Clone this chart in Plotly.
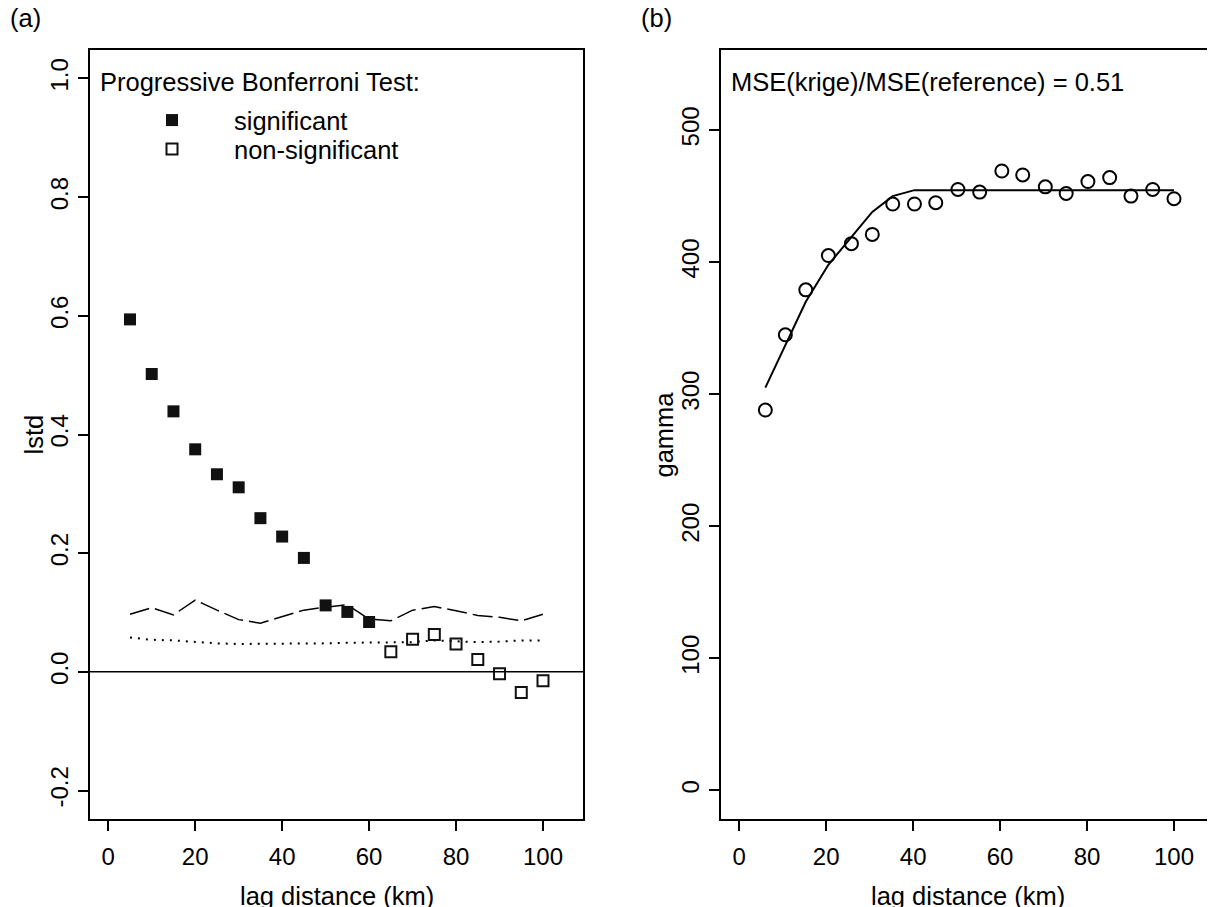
import plotly.graph_objects as go

# (a) standardized indicator values by lag class
lag = [5, 10, 15, 20, 25, 30, 35, 40, 45, 50, 55, 60, 65, 70, 75, 80, 85, 90, 95, 100]
lstd = [0.594, 0.502, 0.439, 0.375, 0.333, 0.311, 0.259, 0.228, 0.192, 0.112,
        0.101, 0.084, 0.034, 0.055, 0.063, 0.047, 0.021, -0.003, -0.035, -0.015]
significant = [True, True, True, True, True, True, True, True, True, True,
               True, True, False, False, False, False, False, False, False, False]
upper_env = [0.097, 0.108, 0.096, 0.121, 0.104, 0.088, 0.082, 0.093, 0.104, 0.109,
             0.113, 0.089, 0.086, 0.104, 0.110, 0.103, 0.095, 0.092, 0.086, 0.097]
lower_env = [0.058, 0.054, 0.053, 0.050, 0.048, 0.047, 0.047, 0.048, 0.048, 0.048,
             0.049, 0.049, 0.049, 0.050, 0.053, 0.051, 0.050, 0.051, 0.053, 0.053]
lstd_ticks = [-0.2, 0.0, 0.2, 0.4, 0.6, 0.8, 1.0]
lstd_ticktext = ["-0.2", "0.0", "0.2", "0.4", "0.6", "0.8", "1.0"]

# (b) empirical variogram and fitted model
gamma_lag = [6.0, 10.6, 15.3, 20.5, 25.8, 30.6, 35.3, 40.3, 45.2, 50.3,
             55.3, 60.4, 65.2, 70.4, 75.2, 80.2, 85.2, 90.1, 95.1, 100.0]
gamma = [288, 345, 379, 405, 414, 421, 444, 444, 445, 455,
         453, 469, 466, 457, 452, 461, 464, 450, 455, 448]
gamma_model = [305, 337, 370, 398, 419, 438, 450, 454.5, 454.5, 454.5,
               454.5, 454.5, 454.5, 454.5, 454.5, 454.5, 454.5, 454.5, 454.5, 454.5]
gamma_ticks = [0, 100, 200, 300, 400, 500]
lag_ticks = [0, 20, 40, 60, 80, 100]

FONT = "Liberation Sans, Arial, Helvetica, sans-serif"
FS = 24      # tick labels
FT = 25.5    # other text

# the page body adds an 8px offset, so the figure is drawn 8px smaller;
# plot area in window pixels: left 90, top 50, width 1124, height 769
def px(x):
    return (x - 90) / 1124


def py(y):
    return (819 - y) / 769


sig_x = [x for x, s in zip(lag, significant) if s]
sig_y = [v for v, s in zip(lstd, significant) if s]
ns_x = [x for x, s in zip(lag, significant) if not s]
ns_y = [v for v, s in zip(lstd, significant) if not s]

fig = go.Figure()
fig.add_trace(go.Scatter(x=lag, y=upper_env, mode="lines", showlegend=False,
                         line=dict(color="black", width=1.5, dash="20px,6px"),
                         xaxis="x", yaxis="y"))
fig.add_trace(go.Scatter(x=lag, y=lower_env, mode="lines", showlegend=False,
                         line=dict(color="black", width=2, dash="2px,6px"),
                         xaxis="x", yaxis="y"))
fig.add_trace(go.Scatter(x=sig_x, y=sig_y, mode="markers", name="significant",
                         legend="legend",
                         marker=dict(symbol="square", size=12, color="#111111"),
                         xaxis="x", yaxis="y"))
fig.add_trace(go.Scatter(x=ns_x, y=ns_y, mode="markers", name="non-significant",
                         legend="legend2",
                         marker=dict(symbol="square-open", size=11, color="#111111",
                                     line=dict(width=2)),
                         xaxis="x", yaxis="y"))
fig.add_trace(go.Scatter(x=gamma_lag, y=gamma_model, mode="lines", showlegend=False,
                         line=dict(color="black", width=2),
                         xaxis="x2", yaxis="y2"))
fig.add_trace(go.Scatter(x=gamma_lag, y=gamma, mode="markers", showlegend=False,
                         marker=dict(symbol="circle-open", size=13, color="black",
                                     line=dict(width=2)),
                         xaxis="x2", yaxis="y2"))

# horizontal reference at zero
fig.add_shape(type="line", xref="x domain", yref="y", x0=0, x1=1, y0=0, y1=0,
              line=dict(color="black", width=1.5))

axis_style = dict(showgrid=False, zeroline=False, showline=True, mirror=True,
                  linecolor="black", linewidth=2, ticks="outside", ticklen=10,
                  tickwidth=2, tickcolor="black",
                  tickfont=dict(family=FONT, size=FS, color="black"))

legend_style = dict(xanchor="left", yanchor="top", bgcolor="rgba(0,0,0,0)",
                    itemwidth=114, font=dict(family=FONT, size=FT, color="black"))

fig.update_layout(
    width=1207, height=899,
    margin=dict(l=82, r=1, t=42, b=88, autoexpand=False),
    paper_bgcolor="white", plot_bgcolor="white",
    font=dict(family=FONT, size=FS, color="black"),
    xaxis=dict(domain=[0, px(583)], range=[-4.2, 109.2], tickvals=lag_ticks,
               ticklabelstandoff=5, anchor="y", **axis_style),
    yaxis=dict(domain=[0, 1], range=[-0.248, 1.048], tickvals=lstd_ticks,
               ticktext=lstd_ticktext, tickangle=-90, anchor="x", **axis_style),
    xaxis2=dict(domain=[px(721), 1], range=[-4.2, 109.2], tickvals=lag_ticks,
                ticklabelstandoff=5, anchor="y2", **axis_style),
    yaxis2=dict(domain=[0, 1], range=[-21.6, 560.6], tickvals=gamma_ticks,
                tickangle=-90, anchor="x2", **axis_style),
    legend=dict(x=px(110), y=py(97), **legend_style),
    legend2=dict(x=px(110), y=py(126), **legend_style),
)

annotations = [
    ("(a)", 8, 18, "left", 0),
    ("(b)", 639, 18, "left", 0),
    ("Progressive Bonferroni Test:", 98, 82, "left", 0),
    ("MSE(krige)/MSE(reference) = 0.51", 729, 82, "left", 0),
    ("lag distance (km)", 336.5, 896, "center", 0),
    ("lag distance (km)", 967.5, 896, "center", 0),
    ("lstd", 33, 434.5, "center", -90),
    ("gamma", 663, 434.5, "center", -90),
]
for text, x, y, align, ang in annotations:
    fig.add_annotation(text=text, x=px(x), y=py(y), xref="paper", yref="paper",
                       xanchor=align, yanchor="middle", showarrow=False,
                       textangle=ang, font=dict(family=FONT, size=FT, color="black"))

fig.write_html("out.html")
